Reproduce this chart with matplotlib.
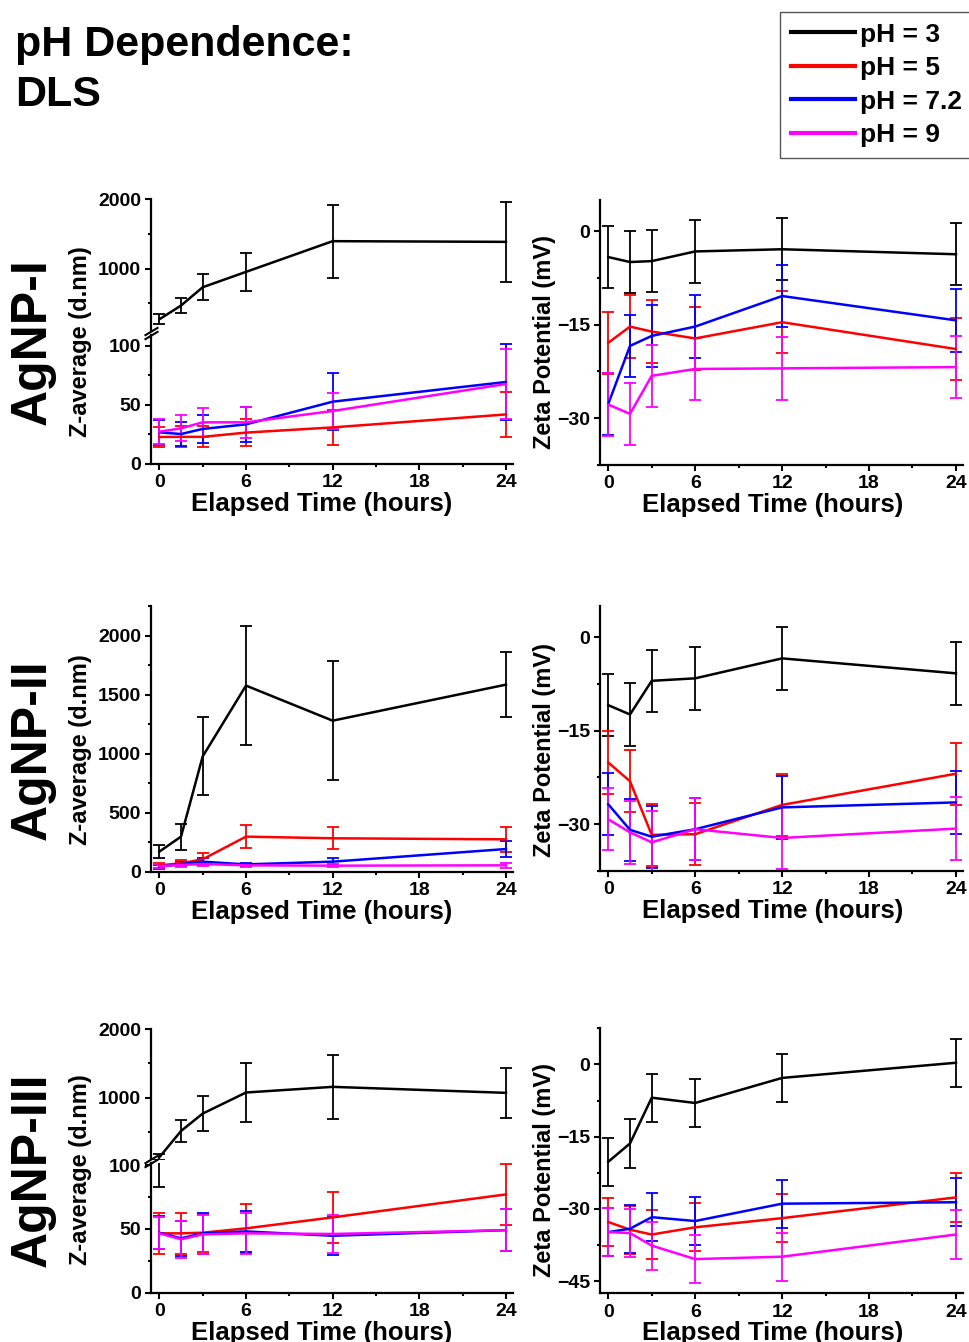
import matplotlib
matplotlib.use('Agg')
import matplotlib.pyplot as plt
from matplotlib.lines import Line2D

plt.rcParams['font.family'] = ['Liberation Sans', 'DejaVu Sans']
plt.rcParams['font.weight'] = 'bold'
plt.rcParams['axes.labelweight'] = 'bold'

# ---- data ----
hours = [0, 1.5, 3, 6, 12, 24]
ph_labels = ['pH = 3', 'pH = 5', 'pH = 7.2', 'pH = 9']
colors = ['black', '#ff0000', '#0000ff', '#ff00ff']

# AgNP-I, Z-average (d.nm); order pH 3, 5, 7.2, 9
zavg_I = [[269, 467, 731, 953, 1396, 1386],
          [22.9, 23, 23, 26.6, 31, 42],
          [26.8, 25.4, 29.7, 33.6, 52.8, 69.5],
          [27.4, 30.2, 35.3, 35.3, 44.9, 67.8]]
zavg_I_err = [[75, 110, 185, 275, 525, 580],
              [8.5, 9, 9, 11.5, 14.5, 19],
              [10.5, 10, 12, 15, 24, 32],
              [10.5, 11, 12, 13, 15.5, 30]]
zeta_I = [[-4.15, -4.95, -4.8, -3.25, -2.9, -3.7],
          [-17.9, -15.3, -16.1, -17.2, -14.6, -18.9],
          [-27.7, -18.4, -16.8, -15.3, -10.4, -14.3],
          [-27.8, -29.3, -23.2, -22.1, -22.0, -21.8]]

# AgNP-II
zavg_II = [[170, 297, 976, 1576, 1279, 1584],
           [54, 71, 105, 297, 283, 274],
           [42, 65, 85, 62, 85, 192],
           [48, 57, 65, 54, 51, 54]]
zavg_II_err = [[55, 110, 330, 505, 505, 275],
               [20, 25, 50, 100, 95, 105],
               [15, 20, 30, 15, 30, 65],
               [15, 20, 20, 15, 15, 20]]
zeta_II = [[-10.9, -12.4, -7.0, -6.6, -3.4, -5.8],
           [-20.1, -23.1, -31.7, -31.6, -26.9, -21.9],
           [-26.8, -30.9, -32.0, -30.8, -27.3, -26.5],
           [-29.2, -31.3, -32.9, -30.8, -32.2, -30.7]]

# AgNP-III
zavg_III = [[125, 510, 765, 1074, 1157, 1069],
            [46.5, 46.5, 47, 50.4, 59, 77],
            [47, 42.6, 46.5, 48, 44.6, 49],
            [46.5, 41.8, 45.7, 46.5, 46, 49]]
zavg_III_err = [[42, 160, 260, 430, 465, 365],
                [15.8, 16, 15, 19, 20, 24],
                [12.7, 13.7, 16, 16, 15, 16.5],
                [12.5, 14.5, 15, 16, 15, 16.5]]
zeta_III = [[-20.2, -16.4, -6.9, -8.0, -2.8, 0.35],
            [-32.7, -34.3, -35.3, -33.8, -31.9, -27.6],
            [-34.8, -34.1, -31.7, -32.5, -28.9, -28.6],
            [-34.8, -35.0, -37.6, -40.4, -39.9, -35.3]]

zeta_err = 5.0  # all zeta bars look the same size

W, H = 969, 1342
fig = plt.figure(figsize=(W / 100, H / 100), dpi=100)


def add_ax(x0, y0, x1, y1):
    # box given in pixels, origin top-left
    ax = fig.add_axes([x0 / W, 1 - y1 / H, (x1 - x0) / W, (y1 - y0) / H])
    ax.h_px = y1 - y0
    ax.w_px = x1 - x0
    return ax


def style(ax, xaxis=True, label_x=322):
    for s in ['top', 'right']:
        ax.spines[s].set_visible(False)
    ax.spines['left'].set_linewidth(1.6)
    ax.spines['bottom'].set_linewidth(1.6)
    ax.tick_params(which='major', direction='out', length=4, width=1.5,
                   labelsize=14, pad=3.5)
    ax.tick_params(which='minor', direction='out', length=2.5, width=1.5)
    ax.set_xlim(-0.55, 24.5)
    if xaxis:
        ax.set_xticks([0, 6, 12, 18, 24])
        ax.set_xticks([3, 9, 15, 21], minor=True)
        ax.set_xlabel('Elapsed Time (hours)', fontsize=18.5)
        x0 = ax.get_position().x0 * W
        ax.xaxis.set_label_coords((label_x - x0) / ax.w_px, -28 / ax.h_px)
    else:
        ax.spines['bottom'].set_visible(False)
        ax.set_xticks([])
        ax.set_xticks([], minor=True)


def draw(ax, vals, errs):
    for v, e, c in zip(vals, errs, colors):
        ax.errorbar(hours, v, yerr=e, color=c, lw=1.8, elinewidth=1.3,
                    capsize=4, capthick=1.3)


def break_marks(ax_top, ax_bot):
    kw = dict(marker=[(-1, -0.6), (1, 0.6)], markersize=10, linestyle='none',
              color='k', mec='k', mew=1.5, clip_on=False)
    ax_top.plot([0], [0], transform=ax_top.transAxes, **kw)
    ax_bot.plot([0], [1], transform=ax_bot.transAxes, **kw)


LX0, LX1 = 151.4, 513.2
RX0, RX1 = 600.3, 963.2


def broken_zavg(y_top, y_brk, y_bot, bot_max, vals, errs):
    ax_t = add_ax(LX0, y_top, LX1, y_brk - 2)
    ax_b = add_ax(LX0, y_brk + 2, LX1, y_bot)
    style(ax_t, xaxis=False)
    style(ax_b)
    # only pH 3 reaches the upper segment
    draw(ax_t, vals[:1], errs[:1])
    draw(ax_b, vals, errs)
    ax_t.set_ylim(100, 2000)
    ax_t.set_yticks([1000, 2000])
    ax_t.set_yticks([500, 1500], minor=True)
    ax_b.set_ylim(0, bot_max)
    ax_b.set_yticks([0, 50, 100])
    ax_b.set_yticks([25, 75], minor=True)
    break_marks(ax_t, ax_b)


def zeta_panel(y_top, y_bot, vals, ylim, major, minor):
    ax = add_ax(RX0, y_top, RX1, y_bot)
    style(ax, label_x=773)
    draw(ax, vals, [zeta_err] * 4)
    ax.set_ylim(*ylim)
    ax.set_yticks(major)
    ax.set_yticks(minor, minor=True)
    return ax


# ---- row 1: AgNP-I ----
broken_zavg(199.3, 333, 464, 109.3, zavg_I, zavg_I_err)
zeta_panel(200, 465, zeta_I, (-37.5, 5), [-30, -15, 0], [-37.5, -22.5, -7.5])

# ---- row 2: AgNP-II ----
ax2 = add_ax(LX0, 606, LX1, 871.7)
style(ax2)
draw(ax2, zavg_II, zavg_II_err)
ax2.set_ylim(0, 2250)
ax2.set_yticks([0, 500, 1000, 1500, 2000])
ax2.set_yticks([250, 750, 1250, 1750, 2250], minor=True)
zeta_panel(606, 871, zeta_II, (-37.5, 5), [-30, -15, 0], [-37.5, -22.5, -7.5])

# ---- row 3: AgNP-III ----
broken_zavg(1029.3, 1161, 1292.7, 101.6, zavg_III, zavg_III_err)
zeta_panel(1028.3, 1293.3, zeta_III, (-47.5, 7.5), [-45, -30, -15, 0],
           [-37.5, -22.5, -7.5, 7.5])

# ---- row names and y labels ----
for name, yc in [('AgNP-I', 342), ('AgNP-II', 750), ('AgNP-III', 1170)]:
    fig.text(33 / W, 1 - yc / H, name, rotation=90, fontsize=36,
             ha='center', va='center')
    fig.text(80 / W, 1 - yc / H, 'Z-average (d.nm)', rotation=90,
             fontsize=17, ha='center', va='center')
    fig.text(545 / W, 1 - yc / H, 'Zeta Potential (mV)', rotation=90,
             fontsize=17, ha='center', va='center')

fig.text(15 / W, 1 - 56 / H, 'pH Dependence:', fontsize=31,
         ha='left', va='baseline')
fig.text(15 / W, 1 - 106 / H, 'DLS', fontsize=31, ha='left', va='baseline')

handles = [Line2D([], [], color=c, lw=3) for c in colors]
leg = fig.legend(handles, ph_labels, loc='upper left',
                 bbox_to_anchor=(780 / W, 1 - 12 / H), fontsize=19,
                 handlelength=2.45, handletextpad=0.2, labelspacing=0.36,
                 borderaxespad=0, borderpad=0.4, fancybox=False,
                 edgecolor='#555555', framealpha=1)
leg.get_frame().set_linewidth(1.0)

fig.savefig('out.png', dpi=100)
